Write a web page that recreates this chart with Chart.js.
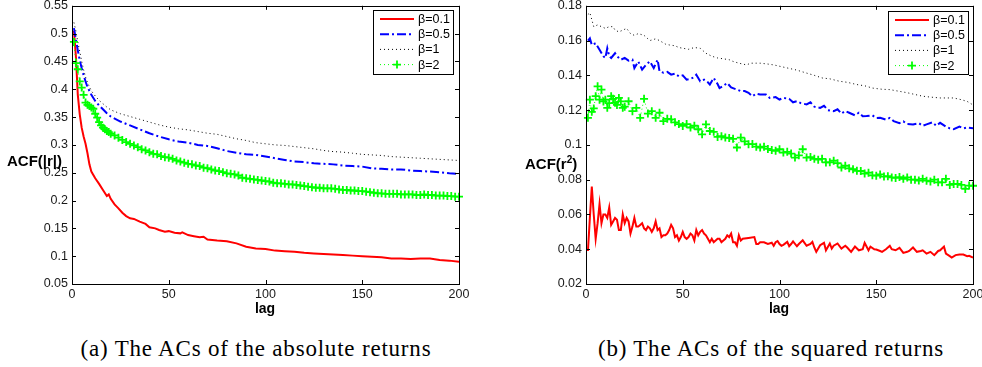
<!DOCTYPE html>
<html>
<head>
<meta charset="utf-8">
<title>ACF of absolute and squared returns</title>
<script src="https://cdn.jsdelivr.net/npm/chart.js@4.4.0/dist/chart.umd.min.js"></script>
<style>
  html, body { margin: 0; padding: 0; background: #fff; width: 982px; height: 367px; overflow: hidden; }
  .panel { position: absolute; top: 0; }
  .ylab { position: absolute; font: bold 15px "Liberation Sans", Arial, sans-serif; color: #000; white-space: nowrap; transform: translateY(-50%); }
  .ylab sup { font-size: 10px; vertical-align: 6px; line-height: 0; }
  .xlab { position: absolute; font: bold 14px "Liberation Sans", Arial, sans-serif; color: #000; transform: translate(-50%, -50%); }
  .caption { position: absolute; font: 23px "Liberation Serif", "Times New Roman", serif; letter-spacing: 0.8px; color: #000; white-space: nowrap; transform: translate(-50%, -50%); }
</style>
</head>
<body>
<div class="panel" style="left:0px"><canvas id="absChart" width="490" height="320"></canvas></div>
<div class="panel" style="left:500px"><canvas id="sqChart" width="490" height="320"></canvas></div>

<div class="ylab" style="left:7px; top:160px">ACF(|r|)</div>
<div class="xlab" style="left:265px; top:308px">lag</div>
<div class="ylab" style="left:525px; top:163px">ACF(r<sup>2</sup>)</div>
<div class="xlab" style="left:779px; top:308px">lag</div>

<div class="caption" style="left:256px; top:349px">(a) The ACs of the absolute returns</div>
<div class="caption" style="left:771px; top:349px">(b) The ACs of the squared returns</div>

<script>
// ---- series labels ----
const betaLabels = ['β=0.1', 'β=0.5', 'β=1', 'β=2'];

// ---- tick values ----
const lagTicks = [0, 50, 100, 150, 200];
const absTicks = [0.05, 0.1, 0.15, 0.2, 0.25, 0.3, 0.35, 0.4, 0.45, 0.5, 0.55];
const sqTicks = [0.02, 0.04, 0.06, 0.08, 0.1, 0.12, 0.14, 0.16, 0.18];

// ---- (a) ACF of |r| ----
const absLineLags = [1, 2, 3, 4, 5, 6, 7, 8, 10, 12, 14, 16, 18, 20, 25, 30, 35, 40, 45, 50,
  55, 60, 65, 70, 75, 80, 85, 90, 95, 100, 105, 110, 115, 120, 125, 130, 135, 140, 145, 150,
  155, 160, 165, 170, 175, 180, 185, 190, 195, 200];

const absRedLags = [1, 2, 3, 4, 5, 6, 7, 8, 9, 10, 12, 14, 16, 18, 19, 20, 22, 24, 26, 28, 30, 32,
  35, 38, 40, 43, 45, 48, 50, 53, 56, 57, 60, 63, 66, 68, 70, 75, 80, 85, 90, 95, 100, 105, 110,
  115, 120, 125, 130, 135, 140, 145, 150, 155, 160, 165, 170, 175, 180, 185, 190, 195, 200];
const absRed = [0.505, 0.46, 0.39, 0.355, 0.331, 0.315, 0.302, 0.285, 0.265, 0.252, 0.240, 0.230,
  0.219, 0.208, 0.211, 0.203, 0.193, 0.186, 0.178, 0.172, 0.168, 0.167, 0.162, 0.158, 0.152,
  0.150, 0.147, 0.144, 0.145, 0.142, 0.141, 0.143, 0.138, 0.136, 0.134, 0.135, 0.130, 0.128,
  0.127, 0.123, 0.117, 0.114, 0.113, 0.110, 0.109, 0.108, 0.106, 0.105, 0.104, 0.103, 0.102,
  0.101, 0.100, 0.099, 0.098, 0.096, 0.096, 0.095, 0.096, 0.096, 0.093, 0.092, 0.090];

const absBlue = [0.51, 0.49, 0.47, 0.452, 0.438, 0.425, 0.414, 0.404, 0.39, 0.379, 0.371, 0.364,
  0.357, 0.351, 0.342, 0.335, 0.328, 0.321, 0.315, 0.310, 0.306, 0.304, 0.300, 0.298, 0.294,
  0.289, 0.286, 0.283, 0.282, 0.279, 0.276, 0.273, 0.270, 0.269, 0.267, 0.266, 0.265, 0.263,
  0.262, 0.261, 0.258, 0.257, 0.256, 0.256, 0.254, 0.253, 0.252, 0.251, 0.249, 0.248];

const absBlack = [0.52, 0.505, 0.485, 0.468, 0.450, 0.435, 0.422, 0.412, 0.397, 0.388, 0.380,
  0.374, 0.368, 0.363, 0.356, 0.351, 0.346, 0.341, 0.336, 0.332, 0.329, 0.327, 0.324, 0.321,
  0.319, 0.315, 0.311, 0.308, 0.304, 0.302, 0.300, 0.299, 0.297, 0.295, 0.293, 0.290, 0.288,
  0.287, 0.285, 0.283, 0.282, 0.281, 0.279, 0.278, 0.277, 0.276, 0.275, 0.274, 0.273, 0.272];

const absGreenLags = [1, 2, 3, 4, 5, 6, 7, 8, 9, 10, 11, 12, 13, 14, 15, 16, 17, 18, 19, 20,
  22, 24, 26, 28, 30, 32, 34, 36, 38, 40, 42, 44, 46, 48, 50, 52, 54, 56, 58, 60,
  62, 64, 66, 68, 70, 72, 74, 76, 78, 80, 82, 84, 86, 88, 90, 92, 94, 96, 98, 100,
  102, 104, 106, 108, 110, 112, 114, 116, 118, 120, 122, 124, 126, 128, 130, 132, 134, 136, 138, 140,
  142, 144, 146, 148, 150, 152, 154, 156, 158, 160, 162, 164, 166, 168, 170, 172, 174, 176, 178, 180,
  182, 184, 186, 188, 190, 192, 194, 196, 198, 200];
const absGreen = [0.485, 0.447, 0.436, 0.414, 0.403, 0.390, 0.376, 0.372, 0.370, 0.367, 0.365,
  0.356, 0.349, 0.341, 0.335, 0.331, 0.328, 0.325, 0.323, 0.320,
  0.317, 0.313, 0.309, 0.305, 0.302, 0.299, 0.296, 0.292, 0.290, 0.287, 0.284, 0.283, 0.280,
  0.278, 0.277, 0.275, 0.272, 0.270, 0.268, 0.266, 0.265, 0.263, 0.262, 0.259, 0.258, 0.256,
  0.254, 0.253, 0.251, 0.249, 0.248, 0.247, 0.245, 0.241, 0.240, 0.239, 0.238, 0.237, 0.236,
  0.235, 0.234, 0.232, 0.231, 0.231, 0.230, 0.229, 0.229, 0.228, 0.227, 0.226, 0.225, 0.224,
  0.223, 0.223, 0.222, 0.222, 0.222, 0.221, 0.220, 0.219, 0.219, 0.218, 0.218, 0.217, 0.217,
  0.216, 0.215, 0.214, 0.213, 0.213, 0.212, 0.212, 0.212, 0.212, 0.211, 0.211, 0.211, 0.211,
  0.210, 0.210, 0.211, 0.210, 0.210, 0.209, 0.209, 0.209, 0.208, 0.208, 0.207, 0.207];

// ---- (b) ACF of r^2 ----
const sqRedLags = [1, 2, 3, 4, 5, 6, 7, 8, 9, 10, 11, 12, 13, 14, 15, 16, 17, 18, 19, 20,
  21, 22, 23, 24, 25, 26, 27, 28, 29, 30, 31, 32, 33, 34, 35, 36, 37, 38, 39, 40,
  41, 42, 43, 44, 45, 46, 47, 48, 49, 50, 51, 52, 53, 54, 55, 56, 57, 58, 59, 60,
  61, 62, 63, 64, 65, 66, 67, 68, 69, 70, 71, 72, 73, 74, 75, 76, 77, 78, 79, 80,
  81, 84, 87, 88, 89, 90, 92, 94, 96, 97, 98, 99, 100, 101, 102, 104, 105, 106, 107, 109,
  110, 112, 114, 116, 117, 118, 119, 121, 123, 124, 126, 127, 128, 130, 132, 134, 135, 137, 139, 141,
  143, 144, 146, 147, 149, 150, 152, 153, 155, 157, 158, 160, 162, 164, 166, 167, 169, 171, 173, 174,
  176, 178, 180, 182, 183, 185, 186, 188, 189, 191, 193, 195, 197, 198, 200];
const sqRed = [0.039, 0.058, 0.076, 0.060, 0.046, 0.055, 0.066, 0.055, 0.060, 0.060,
  0.058, 0.064, 0.054, 0.056, 0.058, 0.057, 0.051, 0.051, 0.060, 0.055,
  0.058, 0.056, 0.049, 0.053, 0.058, 0.053, 0.053, 0.054, 0.055, 0.052,
  0.051, 0.053, 0.052, 0.050, 0.052, 0.056, 0.051, 0.052, 0.047, 0.048,
  0.048, 0.049, 0.051, 0.054, 0.052, 0.047, 0.048, 0.045, 0.047, 0.050,
  0.047, 0.046, 0.047, 0.049, 0.048, 0.045, 0.051, 0.048, 0.050, 0.051,
  0.049, 0.048, 0.046, 0.044, 0.046, 0.044, 0.045, 0.046, 0.046, 0.044,
  0.045, 0.046, 0.048, 0.047, 0.049, 0.044, 0.044, 0.042, 0.048, 0.045,
  0.046, 0.0465, 0.047, 0.043, 0.043, 0.044, 0.044, 0.043, 0.0437, 0.042,
  0.044, 0.0447, 0.043, 0.042, 0.0425, 0.0442, 0.0417, 0.043, 0.0445, 0.0417,
  0.043, 0.0451, 0.042, 0.043, 0.0442, 0.041, 0.0385, 0.0423, 0.0437, 0.0394,
  0.0433, 0.0404, 0.042, 0.0433, 0.0404, 0.042, 0.041, 0.0385, 0.0415, 0.0394,
  0.040, 0.0437, 0.0394, 0.0415, 0.040, 0.0398, 0.039, 0.0385, 0.040, 0.042,
  0.040, 0.0394, 0.0408, 0.0379, 0.0385, 0.039, 0.041, 0.0385, 0.039, 0.0394,
  0.0375, 0.0385, 0.0366, 0.039, 0.0394, 0.0415, 0.0375, 0.036, 0.0352, 0.0366,
  0.037, 0.0369, 0.036, 0.0362, 0.0352];

const sqBlueLags = [1, 2, 3, 5, 7, 9, 10, 11, 12, 13, 15, 16, 18, 20, 22, 24, 25, 27, 29, 31,
  33, 35, 37, 38, 40, 42, 44, 46, 48, 50, 52, 54, 56, 57, 59, 61, 63, 64, 66, 68,
  69, 71, 73, 75, 78, 80, 82, 84, 86, 88, 90, 93, 95, 98, 100, 102, 105, 107, 109, 111,
  114, 116, 118, 121, 123, 125, 128, 130, 132, 134, 136, 139, 141, 143, 145, 148, 150, 152, 155, 157,
  159, 162, 164, 166, 169, 172, 174, 176, 179, 181, 183, 186, 188, 190, 193, 195, 197, 200];
const sqBlue = [0.160, 0.1613, 0.1575, 0.1585, 0.1547, 0.151, 0.150, 0.1556, 0.151, 0.150,
  0.1527, 0.151, 0.149, 0.150, 0.1485, 0.149, 0.1442, 0.148, 0.1433, 0.146,
  0.148, 0.1442, 0.149, 0.1423, 0.1415, 0.142, 0.1404, 0.141, 0.1394, 0.140,
  0.1375, 0.138, 0.139, 0.1404, 0.1366, 0.1375, 0.136, 0.1347, 0.1385, 0.135,
  0.1327, 0.134, 0.1356, 0.133, 0.1318, 0.1309, 0.131, 0.130, 0.128, 0.1295,
  0.129, 0.129, 0.127, 0.1275, 0.1261, 0.127, 0.1265, 0.1245, 0.1251, 0.124,
  0.1233, 0.1245, 0.122, 0.1213, 0.1225, 0.120, 0.1194, 0.1205, 0.118, 0.1195,
  0.1185, 0.117, 0.1185, 0.1165, 0.1166, 0.117, 0.1155, 0.1156, 0.1145, 0.1155,
  0.1137, 0.1125, 0.1135, 0.112, 0.1118, 0.1125, 0.111, 0.1118, 0.113, 0.111,
  0.1127, 0.1105, 0.1095, 0.109, 0.1105, 0.1095, 0.110, 0.1095];

const sqBlackLags = [1, 2, 3, 4, 6, 8, 10, 12, 14, 15, 17, 19, 21, 23, 25, 27, 30, 33, 36, 38,
  41, 43, 46, 48, 50, 53, 56, 59, 62, 65, 68, 71, 74, 76, 79, 83, 85, 88, 90, 94,
  97, 101, 105, 109, 114, 118, 122, 126, 131, 135, 140, 144, 148, 153, 157, 161, 166, 170, 174, 178,
  183, 187, 190, 194, 197, 200];
const sqBlack = [0.175, 0.176, 0.172, 0.168, 0.169, 0.168, 0.167, 0.168, 0.168, 0.166,
  0.165, 0.166, 0.167, 0.164, 0.163, 0.164, 0.163, 0.160, 0.161, 0.160,
  0.158, 0.1575, 0.157, 0.156, 0.1556, 0.155, 0.156, 0.1556, 0.1527, 0.151,
  0.150, 0.1495, 0.149, 0.148, 0.147, 0.146, 0.147, 0.147, 0.147, 0.1465,
  0.146, 0.145, 0.144, 0.143, 0.1413, 0.140, 0.1385, 0.138, 0.1366, 0.136,
  0.1347, 0.134, 0.1327, 0.132, 0.1318, 0.131, 0.130, 0.129, 0.128, 0.1275,
  0.127, 0.127, 0.127, 0.126, 0.125, 0.123];

const sqGreenLags = absGreenLags;
const sqGreen = [0.1156, 0.126, 0.119, 0.121, 0.128, 0.1337, 0.126, 0.1318, 0.125, 0.126,
  0.1213, 0.124, 0.128, 0.1265, 0.1242, 0.123, 0.127, 0.125, 0.1213, 0.122,
  0.1251, 0.1194, 0.1213, 0.1156, 0.1265, 0.118, 0.1194, 0.1156, 0.1185, 0.1137,
  0.115, 0.1147, 0.113, 0.112, 0.1109, 0.112, 0.110, 0.111, 0.109, 0.1061,
  0.1118, 0.108, 0.1075, 0.1046, 0.105, 0.1042, 0.104, 0.1035, 0.0985, 0.1042,
  0.102, 0.1004, 0.1005, 0.099, 0.0985, 0.099, 0.0977, 0.097, 0.0966, 0.0975,
  0.0956, 0.096, 0.095, 0.0927, 0.094, 0.0975, 0.0927, 0.093, 0.092, 0.0915,
  0.092, 0.0899, 0.090, 0.0909, 0.0895, 0.087, 0.088, 0.0865, 0.086, 0.0851,
  0.085, 0.0835, 0.084, 0.0825, 0.0823, 0.083, 0.0818, 0.082, 0.0813, 0.081,
  0.0815, 0.0805, 0.0813, 0.080, 0.080, 0.0795, 0.0805, 0.0794, 0.079, 0.080,
  0.0785, 0.0785, 0.0805, 0.077, 0.0775, 0.0775, 0.077, 0.0747, 0.0766, 0.0765];

// ---- helpers ----
const tickFont = { family: '"Liberation Sans", Arial, sans-serif', size: 12.5 };
const tickColor = '#1a1a1a';

function pairs(lags, values) {
  return lags.map((lag, i) => ({ x: lag, y: values[i] }));
}

function makeDatasets(red, blue, black, green) {
  return [
    { label: betaLabels[0], data: red, borderColor: '#ff0000', borderWidth: 2,
      pointRadius: 0, order: 4 },
    { label: betaLabels[1], data: blue, borderColor: '#0000ff', borderWidth: 2,
      borderDash: [9, 3, 2, 3], pointRadius: 0, order: 3 },
    { label: betaLabels[2], data: black, borderColor: '#000000', borderWidth: 1,
      borderDash: [1, 3], pointRadius: 0, order: 2 },
    { label: betaLabels[3], data: green, borderColor: '#00ff00', borderWidth: 1,
      borderDash: [1, 3], pointStyle: 'cross', pointRadius: 4, pointBorderWidth: 1.8,
      pointBorderColor: '#00ff00', order: 1, clip: false }
  ];
}

// box around the plot and inward tick marks on all four sides
const frameTicks = {
  id: 'frameTicks',
  afterDatasetsDraw(chart) {
    const { ctx, chartArea: a, scales: { x, y } } = chart;
    const len = 4;
    ctx.save();
    ctx.strokeStyle = '#000';
    ctx.lineWidth = 1;
    ctx.beginPath();
    x.ticks.forEach(t => {
      const px = Math.round(x.getPixelForValue(t.value)) + 0.5;
      ctx.moveTo(px, a.bottom); ctx.lineTo(px, a.bottom - len);
      ctx.moveTo(px, a.top); ctx.lineTo(px, a.top + len);
    });
    y.ticks.forEach(t => {
      const py = Math.round(y.getPixelForValue(t.value)) + 0.5;
      ctx.moveTo(a.left, py); ctx.lineTo(a.left + len, py);
      ctx.moveTo(a.right, py); ctx.lineTo(a.right - len, py);
    });
    ctx.stroke();
    ctx.strokeRect(Math.round(a.left) + 0.5, Math.round(a.top) + 0.5,
      Math.round(a.right - a.left), Math.round(a.bottom - a.top));
    ctx.restore();
  }
};

// boxed legend in the upper right corner of the plot
const boxLegend = {
  id: 'boxLegend',
  afterDraw(chart, args, opts) {
    const { ctx, chartArea: a } = chart;
    const left = Math.round(a.right - opts.right - opts.width);
    const top = Math.round(a.top + opts.top);
    ctx.save();
    ctx.fillStyle = '#fff';
    ctx.fillRect(left, top, opts.width, opts.height);
    ctx.strokeStyle = '#000';
    ctx.lineWidth = 1;
    ctx.strokeRect(left + 0.5, top + 0.5, opts.width, opts.height);
    ctx.font = '12.5px "Liberation Sans", Arial, sans-serif';
    ctx.textBaseline = 'middle';
    chart.data.datasets.forEach((ds, i) => {
      const cy = top + 9 + i * 15.2;
      const x0 = left + 7, x1 = left + 41;
      ctx.save();
      ctx.strokeStyle = ds.borderColor;
      ctx.lineWidth = ds.borderWidth;
      ctx.setLineDash(ds.borderDash || []);
      ctx.beginPath();
      ctx.moveTo(x0, cy);
      ctx.lineTo(x1, cy);
      ctx.stroke();
      if (ds.pointStyle === 'cross') {
        const mx = (x0 + x1) / 2, r = ds.pointRadius;
        ctx.setLineDash([]);
        ctx.lineWidth = ds.pointBorderWidth;
        ctx.beginPath();
        ctx.moveTo(mx - r, cy); ctx.lineTo(mx + r, cy);
        ctx.moveTo(mx, cy - r); ctx.lineTo(mx, cy + r);
        ctx.stroke();
      }
      ctx.restore();
      ctx.fillStyle = '#000';
      ctx.fillText(ds.label, left + 45, cy + 0.5);
    });
    ctx.restore();
  }
};

function panelOptions(yTicks, yAxisWidth, padRight, legendPos) {
  return {
    responsive: false,
    animation: false,
    layout: { padding: { left: 0, right: padRight, top: 4, bottom: 0 } },
    elements: { line: { tension: 0 } },
    plugins: {
      legend: { display: false },
      tooltip: { enabled: false },
      boxLegend: legendPos
    },
    scales: {
      x: {
        type: 'linear',
        min: lagTicks[0],
        max: lagTicks[lagTicks.length - 1],
        afterBuildTicks: s => { s.ticks = lagTicks.map(v => ({ value: v })); },
        ticks: { padding: 3, font: tickFont, color: tickColor, maxRotation: 0,
          callback: v => String(v) },
        grid: { display: false, drawTicks: false },
        border: { display: false },
        afterFit: s => { s.height = 36; s.paddingLeft = 0; s.paddingRight = 0; }
      },
      y: {
        type: 'linear',
        min: yTicks[0],
        max: yTicks[yTicks.length - 1],
        afterBuildTicks: s => { s.ticks = yTicks.map(v => ({ value: v })); },
        ticks: { padding: 4, font: tickFont, color: tickColor,
          callback: v => String(+v.toFixed(2)) },
        grid: { display: false, drawTicks: false },
        border: { display: false },
        afterFit: s => { s.width = yAxisWidth; s.paddingTop = 0; s.paddingBottom = 0; }
      }
    }
  };
}

new Chart(document.getElementById('absChart'), {
  type: 'line',
  data: {
    datasets: makeDatasets(
      pairs(absRedLags, absRed),
      pairs(absLineLags, absBlue),
      pairs(absLineLags, absBlack),
      pairs(absGreenLags, absGreen))
  },
  options: panelOptions(absTicks, 72, 31, { right: 6, top: 4, width: 80, height: 64 }),
  plugins: [frameTicks, boxLegend]
});

new Chart(document.getElementById('sqChart'), {
  type: 'line',
  data: {
    datasets: makeDatasets(
      pairs(sqRedLags, sqRed),
      pairs(sqBlueLags, sqBlue),
      pairs(sqBlackLags, sqBlack),
      pairs(sqGreenLags, sqGreen))
  },
  options: panelOptions(sqTicks, 86, 17, { right: 5, top: 5, width: 80, height: 63 }),
  plugins: [frameTicks, boxLegend]
});
</script>
</body>
</html>
